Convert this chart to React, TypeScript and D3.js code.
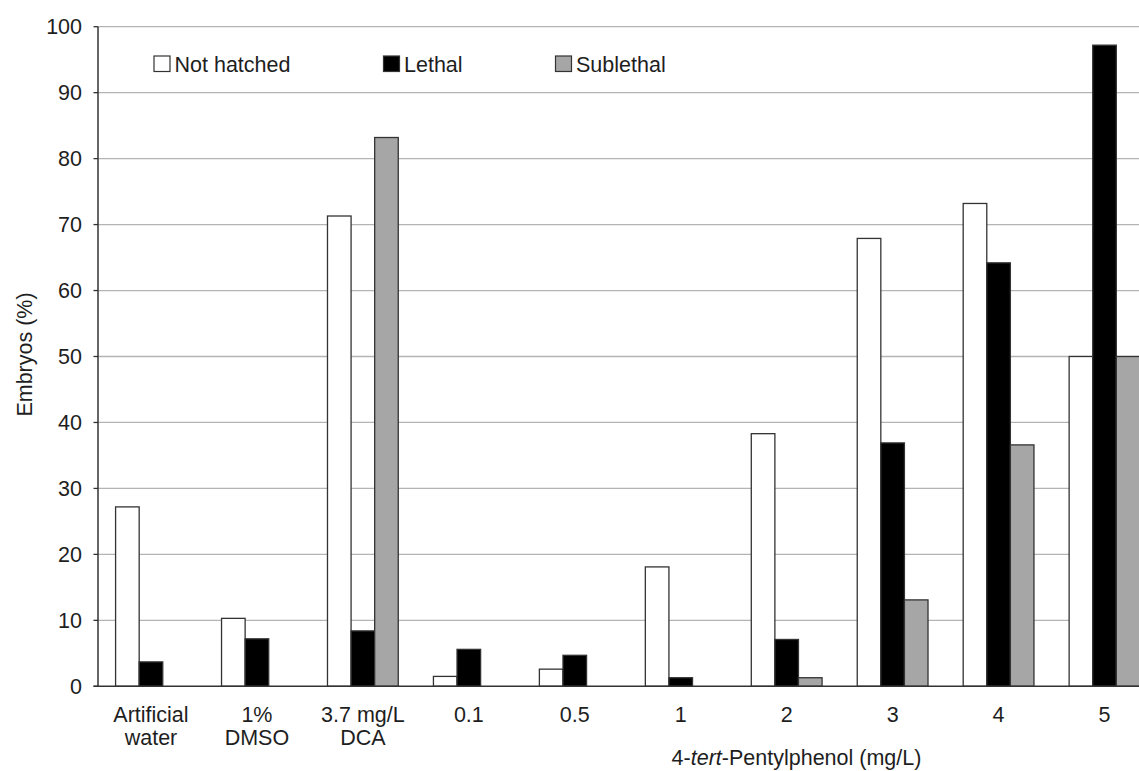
import React from "react";
import * as d3 from "d3";

const categories = ["Artificial water", "1% DMSO", "3.7 mg/L DCA", "0.1", "0.5", "1", "2", "3", "4", "5"];
const categoryLines = [["Artificial", "water"], ["1%", "DMSO"], ["3.7 mg/L", "DCA"], ["0.1"], ["0.5"], ["1"], ["2"], ["3"], ["4"], ["5"]];
const seriesNames = ["Not hatched", "Lethal", "Sublethal"];
const notHatched = [27.2, 10.3, 71.3, 1.5, 2.6, 18.1, 38.3, 67.9, 73.2, 50];
const lethal = [3.7, 7.2, 8.4, 5.6, 4.7, 1.3, 7.1, 36.9, 64.2, 97.2];
const sublethal = [0, 0, 83.2, 0, 0, 0, 1.3, 13.1, 36.6, 50];
const yTicks = [0, 10, 20, 30, 40, 50, 60, 70, 80, 90, 100];
const seriesColors = ["#ffffff", "#000000", "#a6a6a6"];

const W = 1139;
const H = 771;
const left = 98;
const step = 105.95;
const y0 = 686.3;
const y100 = 26.7;
const font = "'Liberation Sans', Arial, sans-serif";
const fs = 21.5;

export default function App() {
  const values = [notHatched, lethal, sublethal];
  const x = d3
    .scaleBand<string>()
    .domain(categories)
    .range([left, left + step * categories.length])
    .paddingInner(0.332)
    .paddingOuter(0.166);
  const xs = d3.scaleBand<string>().domain(seriesNames).range([0, x.bandwidth()]);
  const y = d3.scaleLinear().domain([0, 100]).range([y0, y100]);

  const legendX = [154, 383.5, 555.5];

  return (
    <svg
      width={W}
      height={H}
      style={{ position: "absolute", left: 0, top: 0, background: "#fff" }}
      fontFamily={font}
    >
      <rect x={0} y={0} width={W} height={H} fill="#fff" />
      {yTicks.map((t) =>
        t === 0 ? null : (
          <line key={"g" + t} x1={left} x2={W} y1={y(t)} y2={y(t)} stroke="#b4b4b4" strokeWidth={1.3} />
        )
      )}
      {yTicks.map((t) => (
        <g key={"t" + t}>
          <line x1={left - 4.5} x2={left} y1={y(t)} y2={y(t)} stroke="#333" strokeWidth={1.3} />
          <text x={82} y={y(t)} dy="0.35em" textAnchor="end" fontSize={fs} fill="#1e1e1e">
            {t}
          </text>
        </g>
      ))}
      {categories.map((c, i) =>
        seriesNames.map((s, j) => {
          const v = values[j][i];
          if (!v) return null;
          return (
            <rect
              key={c + s}
              x={(x(c) ?? 0) + (xs(s) ?? 0)}
              y={y(v)}
              width={xs.bandwidth()}
              height={y(0) - y(v)}
              fill={seriesColors[j]}
              stroke="#333"
              strokeWidth={1.3}
            />
          );
        })
      )}
      <line x1={left} x2={left} y1={y(100)} y2={y(0)} stroke="#333" strokeWidth={1.5} />
      <line x1={left - 4.5} x2={W} y1={y(0)} y2={y(0)} stroke="#333" strokeWidth={1.5} />
      {categories.map((c, i) => (
        <text
          key={"xl" + c}
          x={(x(c) ?? 0) + x.bandwidth() / 2}
          y={721.5}
          textAnchor="middle"
          fontSize={fs}
          fill="#1e1e1e"
        >
          {categoryLines[i].map((ln, k) => (
            <tspan key={k} x={(x(c) ?? 0) + x.bandwidth() / 2} dy={k === 0 ? 0 : 23.5}>
              {ln}
            </tspan>
          ))}
        </text>
      ))}
      <text x={796.5} y={765} textAnchor="middle" fontSize={fs} fill="#1e1e1e">
        4-<tspan fontStyle="italic">tert</tspan>-Pentylphenol (mg/L)
      </text>
      <text
        transform={`translate(32, ${(y(0) + y(100)) / 2 - 2}) rotate(-90)`}
        textAnchor="middle"
        fontSize={fs}
        fill="#1e1e1e"
      >
        Embryos (%)
      </text>
      {seriesNames.map((s, j) => (
        <g key={"lg" + s}>
          <rect
            x={legendX[j]}
            y={56}
            width={16}
            height={15.5}
            fill={seriesColors[j]}
            stroke="#333"
            strokeWidth={1.2}
          />
          <text x={legendX[j] + 20.5} y={64} dy="0.35em" fontSize={fs} fill="#1e1e1e">
            {s}
          </text>
        </g>
      ))}
    </svg>
  );
}
